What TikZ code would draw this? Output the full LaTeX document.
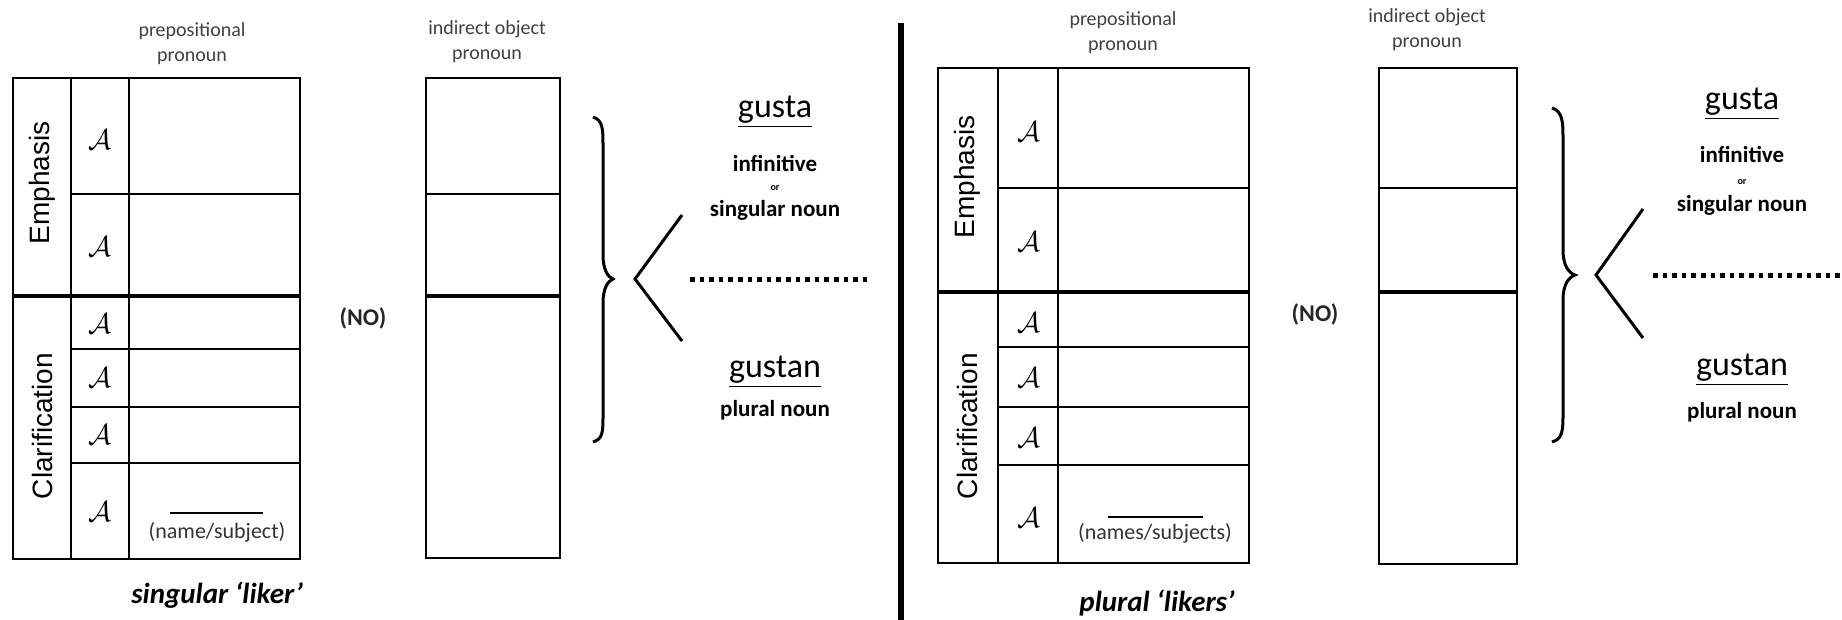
\documentclass[tikz,border=0pt]{standalone}
\usepackage{fontspec}
\setmainfont{Carlito}
\newfontfamily\arialfont{Liberation Sans}
\usepackage{tikz}

\tikzset{
  grid/.style={line width=1pt},
  heavy/.style={line width=2pt},
  head/.style={font=\fontsize{10}{12.5}\selectfont, text=black!75, align=center},
  sect/.style={font=\arialfont\fontsize{14}{16}\selectfont, rotate=90},
  tag/.style={font=\fontsize{15}{16}\selectfont},
  blank/.style={font=\fontsize{11}{12}\selectfont, text=black!80},
  nolbl/.style={font=\bfseries\fontsize{12}{14}\selectfont, text=black!85},
  liker/.style={font=\bfseries\itshape\fontsize{14.5}{16}\selectfont},
  verb/.style={font=\fontsize{17}{18}\selectfont},
  gloss/.style={font=\bfseries\fontsize{11.5}{13}\selectfont},
  tiny/.style={font=\bfseries\fontsize{5}{6}\selectfont},
  brace/.style={line width=1.5pt},
  fork/.style={line width=1.5pt},
  dots/.style={line width=2.5pt, dash pattern=on 2.3pt off 2.5pt}
}

\begin{document}
\begin{tikzpicture}[x=0.5pt,y=-0.5pt]
\useasboundingbox (0,0) rectangle (1842,620);

% singular side
\draw[grid] (13,78) rectangle (300,559);
\draw[grid] (71,78)--(71,559);
\draw[grid] (129,78)--(129,559);
\draw[grid] (71,194)--(300,194);
\draw[heavy] (13,296)--(300,296);
\draw[grid] (71,349)--(300,349);
\draw[grid] (71,407)--(300,407);
\draw[grid] (71,463)--(300,463);
\node[head] (prepL) at (192,44) {prepositional\\pronoun};
\node[sect] (empL) at (42,183) {Emphasis};
\node[sect] (claL) at (42,426) {Clarification};
\node[tag] (aL1) at (100,140) {$\mathcal{A}$};
\node[tag] (aL2) at (100,247) {$\mathcal{A}$};
\node[tag] (aL3) at (100,324) {$\mathcal{A}$};
\node[tag] (aL4) at (100,378) {$\mathcal{A}$};
\node[tag] (aL5) at (100,435) {$\mathcal{A}$};
\node[tag] (aL6) at (100,512) {$\mathcal{A}$};
\draw[line width=0.6pt] (170,513)--(263,513);
\node[blank] (nameL) at (217,532) {(name/subject)};
\node[liker] (likerL) at (217,595) {singular ‘liker’};

\draw[grid] (426,78) rectangle (560,558);
\draw[grid] (426,194)--(560,194);
\draw[heavy] (426,296)--(560,296);
\node[head] (ioL) at (487,42) {indirect object\\pronoun};
\node[nolbl] (noL) at (363,318) {(NO)};

\draw[brace] (593,117) .. controls (603,120) and (603,130) .. (603,145) -- (603,255)
  .. controls (603,270) and (608,277) .. (613,279)
  .. controls (608,281) and (603,288) .. (603,303) -- (603,415)
  .. controls (603,432) and (603,439) .. (593,442);
\coordinate (vL) at (635,279);
\coordinate (upL) at (682,215);
\coordinate (dnL) at (682,341);
\draw[fork] (upL)--(vL)--(dnL);
\coordinate (dsL) at (690,280);
\coordinate (deL) at (872,280);
\draw[dots] (dsL)--(deL);
\node[verb] (gustaL) at (775,112) {\underline{gusta}};
\node[gloss] (infL) at (775,163) {infinitive};
\node[tiny] (orL) at (775,188) {or};
\node[gloss] (singL) at (775,210) {singular noun};
\node[verb] (gustanL) at (775,372) {\underline{gustan}};
\node[gloss] (plL) at (775,410) {plural noun};

% divider
\draw[line width=3pt] (901,23)--(901,620);

% plural side
\draw[grid] (938,68) rectangle (1249,563);
\draw[grid] (998,68)--(998,563);
\draw[grid] (1058,68)--(1058,563);
\draw[grid] (998,188)--(1249,188);
\draw[heavy] (938,292)--(1249,292);
\draw[grid] (998,347)--(1249,347);
\draw[grid] (998,407)--(1249,407);
\draw[grid] (998,465)--(1249,465);
\node[head] (prepR) at (1123,33) {prepositional\\pronoun};
\node[sect] (empR) at (967,177) {Emphasis};
\node[sect] (claR) at (967,426) {Clarification};
\node[tag] (aR1) at (1029,132) {$\mathcal{A}$};
\node[tag] (aR2) at (1029,242) {$\mathcal{A}$};
\node[tag] (aR3) at (1029,323) {$\mathcal{A}$};
\node[tag] (aR4) at (1029,378) {$\mathcal{A}$};
\node[tag] (aR5) at (1029,438) {$\mathcal{A}$};
\node[tag] (aR6) at (1029,518) {$\mathcal{A}$};
\draw[line width=0.6pt] (1108,517)--(1203,517);
\node[blank] (nameR) at (1155,533) {(names/subjects)};
\node[liker] (likerR) at (1157,603) {plural ‘likers’};

\draw[grid] (1379,68) rectangle (1517,564);
\draw[grid] (1379,188)--(1517,188);
\draw[heavy] (1379,292)--(1517,292);
\node[head] (ioR) at (1427,30) {indirect object\\pronoun};
\node[nolbl] (noR) at (1315,314) {(NO)};

\draw[brace] (1552,108) .. controls (1562,111) and (1563,121) .. (1563,136) -- (1563,250)
  .. controls (1563,266) and (1569,273) .. (1575,275)
  .. controls (1569,277) and (1563,284) .. (1563,300) -- (1563,415)
  .. controls (1563,432) and (1562,439) .. (1552,442);
\coordinate (vR) at (1596,275);
\coordinate (upR) at (1643,209);
\coordinate (dnR) at (1643,338);
\draw[fork] (upR)--(vR)--(dnR);
\coordinate (dsR) at (1653,276);
\coordinate (deR) at (1842,276);
\draw[dots] (dsR)--(deR);
\node[verb] (gustaR) at (1742,104) {\underline{gusta}};
\node[gloss] (infR) at (1742,155) {infinitive};
\node[tiny] (orR) at (1742,182) {or};
\node[gloss] (singR) at (1742,205) {singular noun};
\node[verb] (gustanR) at (1742,370) {\underline{gustan}};
\node[gloss] (plR) at (1742,412) {plural noun};
\end{tikzpicture}
\end{document}
